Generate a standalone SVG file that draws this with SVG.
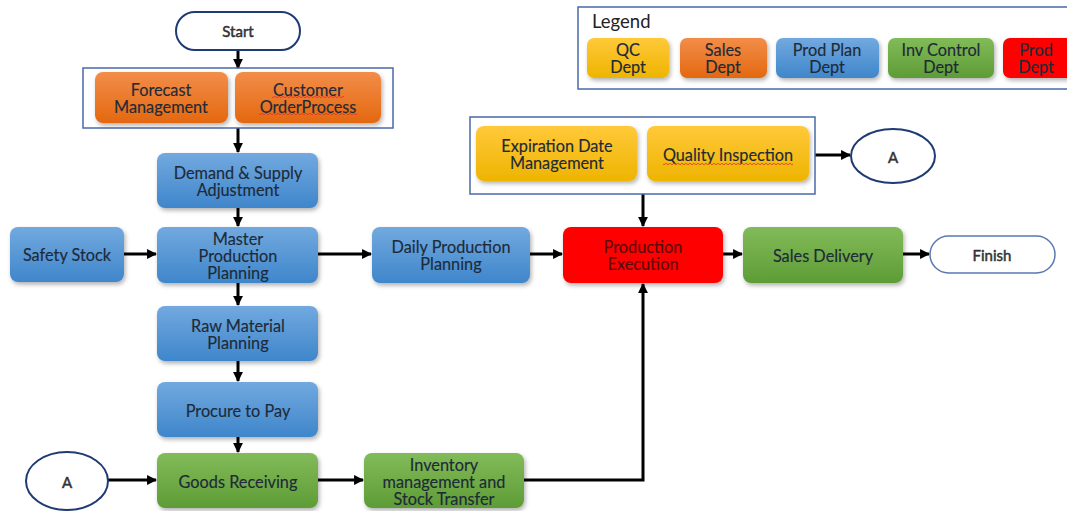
<svg xmlns="http://www.w3.org/2000/svg" width="1067" height="511" viewBox="0 0 1067 511">
  <style>
    .lbl { font-family: Lato, "Open Sans", "Liberation Sans", sans-serif; font-size: 16.3px; text-anchor: middle; dominant-baseline: central; stroke-width: 0.15px; }
    .dk { fill: #1e2a38; stroke: #1e2a38; }
    .gr { fill: #333; stroke: #333; font-size: 15px; stroke-width: 0.5px; }
    .term { fill: #ffffff; stroke: #1f3b73; stroke-width: 2; }
    .frame { fill: none; stroke: #4a6aa8; stroke-width: 1.5; }
    .blue { fill: url(#gBlue); }
    .orange { fill: url(#gOrange); }
    .green { fill: url(#gGreen); }
    .yellow { fill: url(#gYellow); }
    .red { fill: #ff0000; }
    .conn { fill: none; stroke: #000; stroke-width: 3; marker-end: url(#arr); }
    .squig { fill: none; stroke: #e03030; stroke-width: 0.8; }
  </style>
  <defs>
    <linearGradient id="gBlue" x1="0" y1="0" x2="0" y2="1">
      <stop offset="0" stop-color="#72a9df"/>
      <stop offset="1" stop-color="#3f86cb"/>
    </linearGradient>
    <linearGradient id="gOrange" x1="0" y1="0" x2="0" y2="1">
      <stop offset="0" stop-color="#f28d4a"/>
      <stop offset="1" stop-color="#e4680f"/>
    </linearGradient>
    <linearGradient id="gGreen" x1="0" y1="0" x2="0" y2="1">
      <stop offset="0" stop-color="#82bb59"/>
      <stop offset="1" stop-color="#5e9c36"/>
    </linearGradient>
    <linearGradient id="gYellow" x1="0" y1="0" x2="0" y2="1">
      <stop offset="0" stop-color="#ffc93a"/>
      <stop offset="1" stop-color="#eeb400"/>
    </linearGradient>
    <filter id="sh" x="-10%" y="-15%" width="125%" height="140%">
      <feDropShadow dx="1.5" dy="2.5" stdDeviation="2" flood-color="#000" flood-opacity="0.3"/>
    </filter>
    <marker id="arr" viewBox="0 0 10 10" refX="9" refY="5" markerWidth="3.3" markerHeight="3.3" orient="auto" markerUnits="strokeWidth">
      <path d="M0,0 L10,5 L0,10 z" fill="#000"/>
    </marker>
  </defs>

  <!-- legend -->
  <g id="legend">
    <rect x="578" y="7" width="500" height="82" class="frame"/>
    <text x="592" y="21" font-family="Lato, 'Open Sans', 'Liberation Sans', sans-serif" font-size="18.5" fill="#222" dominant-baseline="central">Legend</text>
    <g filter="url(#sh)">
      <rect x="587" y="38" width="82" height="40" rx="7" class="yellow"/>
      <rect x="680" y="38" width="87" height="40" rx="7" class="orange"/>
      <rect x="776" y="38" width="103" height="40" rx="7" class="blue"/>
      <rect x="888" y="38" width="106" height="40" rx="7" class="green"/>
      <rect x="1003" y="38" width="80" height="40" rx="7" class="red"/>
    </g>
    <text class="lbl dk" x="628" y="49">QC</text><text class="lbl dk" x="628" y="66">Dept</text>
    <text class="lbl dk" x="723" y="49">Sales</text><text class="lbl dk" x="723" y="66">Dept</text>
    <text class="lbl dk" x="827" y="49">Prod Plan</text><text class="lbl dk" x="827" y="66">Dept</text>
    <text class="lbl dk" x="941" y="49">Inv Control</text><text class="lbl dk" x="941" y="66">Dept</text>
    <text class="lbl dk" x="1036" y="49">Prod</text><text class="lbl dk" x="1036" y="66">Dept</text>
  </g>

  <!-- connectors -->
  <g id="connectors">
    <path class="conn" d="M238,50 V68"/>
    <path class="conn" d="M238,128 V152"/>
    <path class="conn" d="M238,208 V226"/>
    <path class="conn" d="M124,254 H156"/>
    <path class="conn" d="M318,254 H371"/>
    <path class="conn" d="M530,254 H562"/>
    <path class="conn" d="M723,254 H742"/>
    <path class="conn" d="M903,254 H929"/>
    <path class="conn" d="M643,194 V226"/>
    <path class="conn" d="M815,155 H850"/>
    <path class="conn" d="M238,283 V305"/>
    <path class="conn" d="M238,361 V381"/>
    <path class="conn" d="M238,437 V452"/>
    <path class="conn" d="M108,480 H156"/>
    <path class="conn" d="M318,480 H363"/>
    <path class="conn" d="M524,480 H643 V284"/>
  </g>

  <g id="start">
    <rect x="176" y="12" width="124" height="38" rx="19" class="term"/>
    <text class="lbl gr" x="238" y="31">Start</text>
  </g>

  <g id="sales-group">
    <rect x="83" y="68" width="310" height="60" class="frame"/>
  </g>
  <g id="forecast">
    <rect x="95" y="72" width="133" height="51" rx="8" class="orange" filter="url(#sh)"/>
    <text class="lbl dk" x="161" y="89">Forecast</text>
    <text class="lbl dk" x="161" y="106">Management</text>
  </g>
  <g id="customer-order">
    <rect x="235" y="72" width="146" height="51" rx="8" class="orange" filter="url(#sh)"/>
    <text class="lbl dk" x="308" y="89">Customer</text>
    <text class="lbl dk" x="308" y="106">OrderProcess</text>
    <path class="squig" d="M272,97 q1,1.5 2,0 t2,0 t2,0 t2,0 t2,0 t2,0 t2,0 t2,0 t2,0 t2,0 t2,0 t2,0 t2,0 t2,0 t2,0 t2,0 t2,0 t2,0 t2,0 t2,0 t2,0 t2,0 t2,0 t2,0 t2,0 t2,0 t2,0 t2,0 t2,0 t2,0 t2,0 t2,0 t2,0 t2,0 t2,0 t2,0"/>
    <path class="squig" d="M259,114 q1,1.5 2,0 t2,0 t2,0 t2,0 t2,0 t2,0 t2,0 t2,0 t2,0 t2,0 t2,0 t2,0 t2,0 t2,0 t2,0 t2,0 t2,0 t2,0 t2,0 t2,0 t2,0 t2,0 t2,0 t2,0 t2,0 t2,0 t2,0 t2,0 t2,0 t2,0 t2,0 t2,0 t2,0 t2,0 t2,0 t2,0 t2,0 t2,0 t2,0 t2,0 t2,0 t2,0 t2,0 t2,0 t2,0 t2,0 t2,0 t2,0 t2,0"/>
  </g>

  <g id="demand-supply">
    <rect x="157" y="153" width="161" height="55" rx="8" class="blue" filter="url(#sh)"/>
    <text class="lbl dk" x="238" y="172">Demand &amp; Supply</text>
    <text class="lbl dk" x="238" y="189">Adjustment</text>
  </g>

  <g id="safety-stock">
    <rect x="10" y="227" width="114" height="55" rx="8" class="blue" filter="url(#sh)"/>
    <text class="lbl dk" x="67" y="254">Safety Stock</text>
  </g>

  <g id="master-planning">
    <rect x="157" y="227" width="161" height="56" rx="8" class="blue" filter="url(#sh)"/>
    <text class="lbl dk" x="238" y="238">Master</text>
    <text class="lbl dk" x="238" y="255">Production</text>
    <text class="lbl dk" x="238" y="272">Planning</text>
  </g>

  <g id="daily-planning">
    <rect x="372" y="227" width="158" height="56" rx="8" class="blue" filter="url(#sh)"/>
    <text class="lbl dk" x="451" y="246">Daily Production</text>
    <text class="lbl dk" x="451" y="263">Planning</text>
  </g>

  <g id="qc-group">
    <rect x="470" y="117" width="345" height="77" class="frame"/>
  </g>
  <g id="expiration">
    <rect x="476" y="126" width="161" height="55" rx="8" class="yellow" filter="url(#sh)"/>
    <text class="lbl dk" x="557" y="145">Expiration Date</text>
    <text class="lbl dk" x="557" y="162">Management</text>
  </g>
  <g id="quality-inspection">
    <rect x="647" y="126" width="162" height="55" rx="8" class="yellow" filter="url(#sh)"/>
    <text class="lbl dk" x="728" y="154">Quality Inspection</text>
    <path class="squig" d="M663,164 q1,1.5 2,0 t2,0 t2,0 t2,0 t2,0 t2,0 t2,0 t2,0 t2,0 t2,0 t2,0 t2,0 t2,0 t2,0 t2,0 t2,0 t2,0 t2,0 t2,0 t2,0 t2,0 t2,0 t2,0 t2,0 t2,0 t2,0 t2,0 t2,0 t2,0 t2,0 t2,0 t2,0 t2,0 t2,0 t2,0 t2,0 t2,0 t2,0 t2,0 t2,0 t2,0 t2,0 t2,0 t2,0 t2,0 t2,0 t2,0 t2,0 t2,0 t2,0 t2,0 t2,0 t2,0 t2,0 t2,0 t2,0 t2,0 t2,0 t2,0 t2,0 t2,0 t2,0 t2,0 t2,0 t2,0"/>
  </g>

  <g id="connector-a-top">
    <ellipse cx="893" cy="156" rx="42" ry="27" class="term"/>
    <text class="lbl gr" x="893" y="157" font-size="14">A</text>
  </g>

  <g id="production-execution">
    <rect x="563" y="227" width="160" height="56" rx="8" class="red" filter="url(#sh)"/>
    <text class="lbl" x="643" y="246" fill="#5a0a0a" stroke="#5a0a0a">Production</text>
    <text class="lbl" x="643" y="263" fill="#5a0a0a" stroke="#5a0a0a">Execution</text>
  </g>

  <g id="sales-delivery">
    <rect x="743" y="227" width="160" height="56" rx="8" class="green" filter="url(#sh)"/>
    <text class="lbl dk" x="823" y="255">Sales Delivery</text>
  </g>

  <g id="finish">
    <rect x="930" y="236" width="125" height="37" rx="18.5" fill="#fff" stroke="#5a78b0" stroke-width="1.5"/>
    <text class="lbl gr" x="992" y="255">Finish</text>
  </g>

  <g id="raw-material">
    <rect x="157" y="306" width="161" height="55" rx="8" class="blue" filter="url(#sh)"/>
    <text class="lbl dk" x="238" y="325">Raw Material</text>
    <text class="lbl dk" x="238" y="342">Planning</text>
  </g>

  <g id="procure-to-pay">
    <rect x="157" y="382" width="161" height="55" rx="8" class="blue" filter="url(#sh)"/>
    <text class="lbl dk" x="238" y="410">Procure to Pay</text>
  </g>

  <g id="connector-a-bottom">
    <ellipse cx="67" cy="481" rx="41" ry="29" class="term"/>
    <text class="lbl gr" x="67" y="482" font-size="14">A</text>
  </g>

  <g id="goods-receiving">
    <rect x="157" y="453" width="161" height="55" rx="8" class="green" filter="url(#sh)"/>
    <text class="lbl dk" x="238" y="481">Goods Receiving</text>
  </g>

  <g id="inventory-transfer">
    <rect x="364" y="453" width="160" height="55" rx="8" class="green" filter="url(#sh)"/>
    <text class="lbl dk" x="444" y="464">Inventory</text>
    <text class="lbl dk" x="444" y="481">management and</text>
    <text class="lbl dk" x="444" y="498">Stock Transfer</text>
  </g>
</svg>
